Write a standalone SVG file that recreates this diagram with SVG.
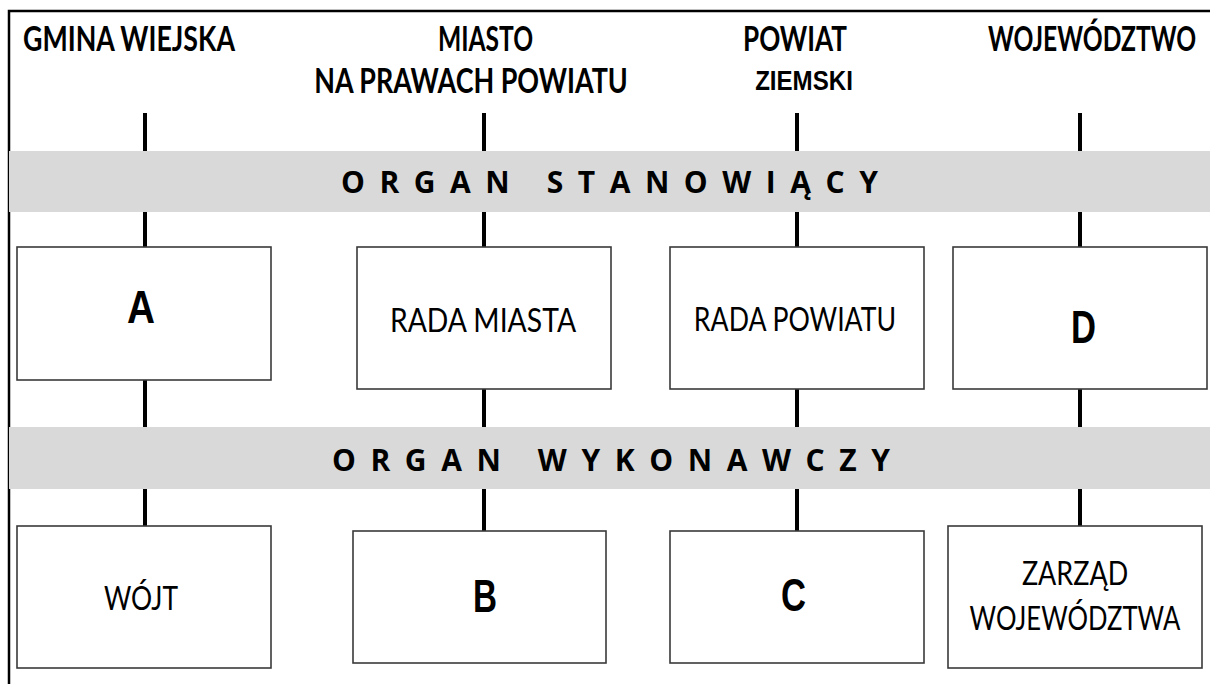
<svg xmlns="http://www.w3.org/2000/svg" width="1210" height="684" viewBox="0 0 1210 684">
<style>
.hdr{font-family:Lato,"Open Sans","Liberation Sans",sans-serif;font-weight:700;font-size:34px;fill:#000;text-anchor:middle}
.band{fill:#d9d9d9}
.bt{font-family:"Open Sans","Liberation Sans",sans-serif;font-weight:700;font-size:30px;fill:#000}
.box{fill:#fff;stroke:#3a3a3a;stroke-width:1.6}
.lbl{font-family:Lato,"Open Sans","Liberation Sans",sans-serif;font-size:32px;fill:#000;text-anchor:middle}
.big{font-family:"Liberation Sans",Arial,sans-serif;font-weight:700;font-size:47px;fill:#000}
.con line{stroke:#000;stroke-width:4}
.frame{stroke:#000;stroke-width:2.5;fill:none}
</style>
<rect width="1210" height="684" fill="#fff"/>
<path class="frame" d="M9,684 V11 H1210"/>
<g id="headers">
<text class="hdr" transform="translate(129,51) scale(0.8,1)" textLength="265" lengthAdjust="spacingAndGlyphs">GMINA WIEJSKA</text>
<text class="hdr" transform="translate(485.5,51) scale(0.8,1)" textLength="119" lengthAdjust="spacingAndGlyphs">MIASTO</text>
<text class="hdr" transform="translate(471,93) scale(0.8,1)" textLength="392" lengthAdjust="spacingAndGlyphs">NA PRAWACH POWIATU</text>
<text class="hdr" transform="translate(795,51) scale(0.8,1)" textLength="130" lengthAdjust="spacingAndGlyphs">POWIAT</text>
<text font-family="Liberation Sans, Arial, sans-serif" font-weight="700" font-size="28" text-anchor="middle" transform="translate(804,90) scale(0.85,1)" textLength="115" lengthAdjust="spacingAndGlyphs">ZIEMSKI</text>
<text class="hdr" transform="translate(1092,51) scale(0.76,1)" textLength="274" lengthAdjust="spacingAndGlyphs">WOJEWÓDZTWO</text>
</g>
<g id="band-stanowiacy">
<rect class="band" x="9" y="151" width="1201" height="61"/>
<text class="bt" x="341" y="193" xml:space="preserve" textLength="537" lengthAdjust="spacing">O R G A N   S T A N O W I Ą C Y</text>
</g>
<g id="band-wykonawczy">
<rect class="band" x="9" y="427" width="1201" height="62"/>
<text class="bt" x="332" y="471" xml:space="preserve" textLength="558" lengthAdjust="spacing">O R G A N   W Y K O N A W C Z Y</text>
</g>
<g class="con" id="connectors">
<line x1="145" y1="113" x2="145" y2="151"/>
<line x1="145" y1="212" x2="145" y2="247"/>
<line x1="145" y1="380" x2="145" y2="427"/>
<line x1="145" y1="489" x2="145" y2="526"/>
<line x1="484" y1="113" x2="484" y2="151"/>
<line x1="484" y1="212" x2="484" y2="247"/>
<line x1="484" y1="389" x2="484" y2="427"/>
<line x1="484" y1="489" x2="484" y2="531"/>
<line x1="797" y1="113" x2="797" y2="151"/>
<line x1="797" y1="212" x2="797" y2="247"/>
<line x1="797" y1="389" x2="797" y2="427"/>
<line x1="797" y1="489" x2="797" y2="531"/>
<line x1="1080" y1="113" x2="1080" y2="151"/>
<line x1="1080" y1="212" x2="1080" y2="247"/>
<line x1="1080" y1="389" x2="1080" y2="427"/>
<line x1="1080" y1="489" x2="1080" y2="526"/>
</g>
<g id="node-A">
<rect class="box" x="17" y="247" width="254" height="133"/>
<text class="big" x="127" y="323" textLength="28" lengthAdjust="spacingAndGlyphs">A</text>
</g>
<g id="node-rada-miasta">
<rect class="box" x="357" y="247" width="254" height="142"/>
<text class="lbl" transform="translate(483,332) scale(0.85,1)" textLength="219" lengthAdjust="spacingAndGlyphs">RADA MIASTA</text>
</g>
<g id="node-rada-powiatu">
<rect class="box" x="670" y="247" width="254" height="142"/>
<text class="lbl" transform="translate(795,331) scale(0.85,1)" textLength="238" lengthAdjust="spacingAndGlyphs">RADA POWIATU</text>
</g>
<g id="node-D">
<rect class="box" x="953" y="247" width="254" height="142"/>
<text class="big" x="1071" y="343" textLength="25" lengthAdjust="spacingAndGlyphs">D</text>
</g>
<g id="node-wojt">
<rect class="box" x="17" y="526" width="254" height="142"/>
<text class="lbl" transform="translate(141,610) scale(0.85,1)" textLength="87" lengthAdjust="spacingAndGlyphs">WÓJT</text>
</g>
<g id="node-B">
<rect class="box" x="353" y="531" width="253" height="132"/>
<text class="big" x="473" y="612" textLength="24" lengthAdjust="spacingAndGlyphs">B</text>
</g>
<g id="node-C">
<rect class="box" x="670" y="531" width="254" height="132"/>
<text class="big" x="781" y="611" textLength="25" lengthAdjust="spacingAndGlyphs">C</text>
</g>
<g id="node-zarzad">
<rect class="box" x="948" y="526" width="254" height="142"/>
<text class="lbl" transform="translate(1075,585) scale(0.85,1)" textLength="125" lengthAdjust="spacingAndGlyphs">ZARZĄD</text>
<text class="lbl" transform="translate(1075,630) scale(0.85,1)" textLength="248" lengthAdjust="spacingAndGlyphs">WOJEWÓDZTWA</text>
</g>
</svg>
